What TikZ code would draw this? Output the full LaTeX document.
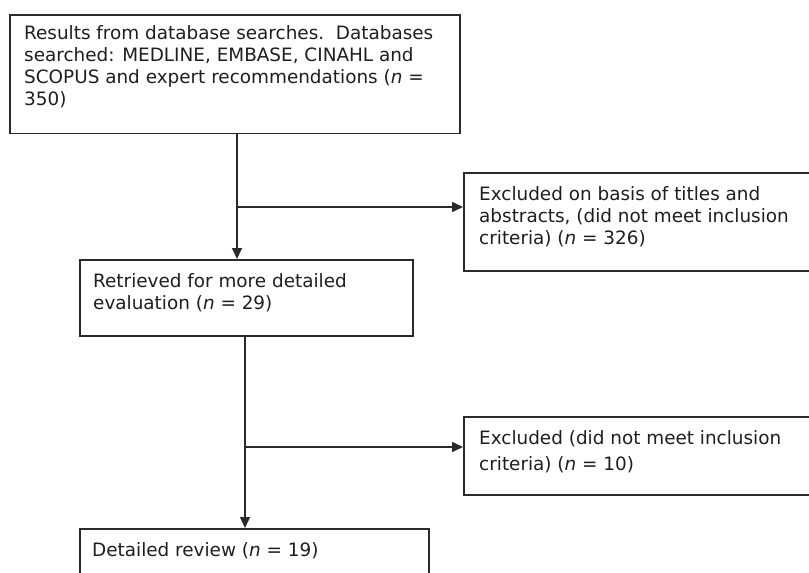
\documentclass[tikz,border=0pt]{standalone}
\usepackage{fontspec}
\setmainfont{DejaVu Sans}
\usetikzlibrary{arrows.meta}
\definecolor{linecol}{HTML}{2A2A2A}
\definecolor{txtcol}{HTML}{1E1E1E}
\newcommand{\fs}{\rule{0pt}{18pt}}
\begin{document}
\begin{tikzpicture}[x=1pt,y=-1pt,
  boxnode/.style={draw=linecol,line width=1.6pt,rectangle,inner sep=0pt,anchor=north west},
  txt/.style={anchor=north west,inner sep=0pt,align=left,text=txtcol,font=\fontsize{18.4}{22}\selectfont},
  conn/.style={draw=linecol,line width=1.5pt},
  arr/.style={conn,-{Triangle[length=11pt,width=10pt]}}]
\useasboundingbox (0,0) rectangle (809,573);
\clip (0,0) rectangle (809,573);
% boxes
\node[boxnode,minimum width=450pt,minimum height=118.5pt] (b1) at (9,14) {};
\node[boxnode,minimum width=333pt,minimum height=76pt] (b2) at (79,259) {};
\node[boxnode,minimum width=360pt,minimum height=98pt] (b3) at (463,172) {};
\node[boxnode,minimum width=360pt,minimum height=78pt] (b4) at (463,416) {};
\node[boxnode,minimum width=349pt,minimum height=80pt] (b5) at (79,528) {};
% texts
\node[txt] (t1) at (24,21.5) {\fs Results from database searches.\ \ Databases\\searched: MEDLINE, EMBASE, CINAHL and\\SCOPUS and expert recommendations (\textit{n} =\\350)};
\node[txt] (t2) at (93,269) {\fs Retrieved for more detailed\\evaluation (\textit{n} = 29)};
\node[txt] (t3) at (479,182) {\fs Excluded on basis of titles and\\abstracts, (did not meet inclusion\\criteria) (\textit{n} = 326)};
\node[txt,font=\fontsize{18.4}{26}\selectfont] (t4) at (479,426) {\fs Excluded (did not meet inclusion\\criteria) (\textit{n} = 10)};
\node[txt] (t5) at (92,538.5) {\fs Detailed review (\textit{n} = 19)};
% connectors
\coordinate (j1) at (237,207);
\coordinate (j2) at (245,447);
\draw[arr] (b1.south -| j1) -- (b2.north -| j1);
\draw[arr] (j1) -- (b3.west |- j1);
\draw[arr] (b2.south -| j2) -- (b5.north -| j2);
\draw[arr] (j2) -- (b4.west |- j2);
\end{tikzpicture}
\end{document}
